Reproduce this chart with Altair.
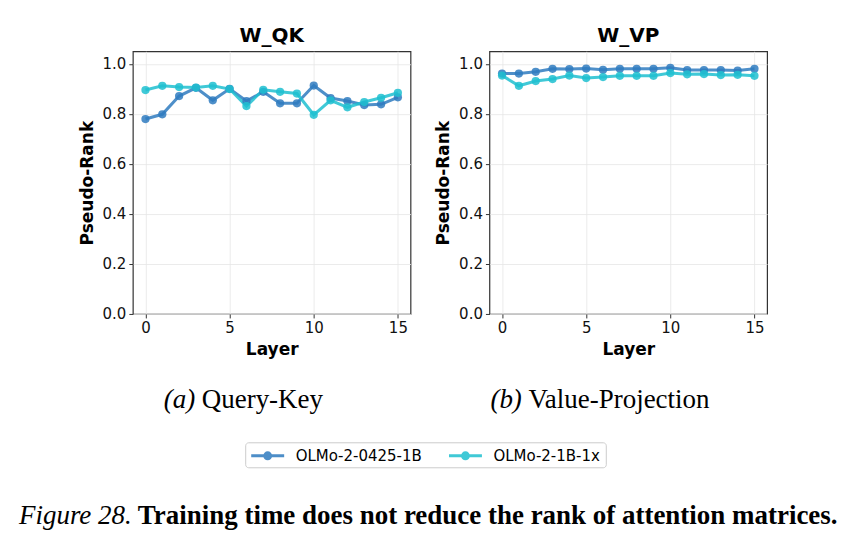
import altair as alt
import pandas as pd

# Pseudo-rank per layer for each attention matrix type
layers = list(range(16))
models = ["OLMo-2-0425-1B", "OLMo-2-1B-1x"]
colors = ["#2f7bbf", "#1fc0d0"]

qk_0425 = [0.779, 0.798, 0.871, 0.904, 0.854, 0.900, 0.851, 0.888,
           0.842, 0.842, 0.913, 0.863, 0.851, 0.835, 0.838, 0.866]
qk_1x = [0.895, 0.912, 0.907, 0.905, 0.912, 0.899, 0.831, 0.896,
         0.888, 0.881, 0.796, 0.854, 0.826, 0.847, 0.864, 0.884]

vp_0425 = [0.961, 0.961, 0.968, 0.980, 0.979, 0.981, 0.976, 0.980,
           0.980, 0.980, 0.984, 0.975, 0.975, 0.975, 0.973, 0.980]
vp_1x = [0.953, 0.912, 0.931, 0.939, 0.953, 0.943, 0.947, 0.952,
         0.952, 0.952, 0.963, 0.958, 0.959, 0.955, 0.956, 0.952]

panel_titles = ["W_QK", "W_VP"]
sub_tags = ["(a)", "(b)"]
sub_names = ["Query-Key", "Value-Projection"]
caption_lead = "Figure 28."
caption_body = "Training time does not reduce the rank of attention matrices."

W, H = 278, 263
SANS = "DejaVu Sans"
SERIF = "Liberation Serif"
SERIF_SIZE = 27


def frame(a, b):
    return pd.DataFrame({
        "Layer": layers * 2,
        "Pseudo-Rank": a + b,
        "Model": [models[0]] * 16 + [models[1]] * 16,
    })


# legend glyph: a line segment with a dot in its middle
legend_glyph = "M-2,0H2M-0.36,0A0.36,0.36,0,1,1,0.36,0A0.36,0.36,0,1,1,-0.36,0Z"

color = alt.Color(
    "Model:N",
    scale=alt.Scale(domain=models, range=colors),
    legend=alt.Legend(
        title=None,
        orient="none",
        legendX=121,
        legendY=391,
        direction="horizontal",
        columns=2,
        columnPadding=20,
        labelFont=SANS,
        labelFontSize=15,
        labelColor="#000",
        labelOffset=18,
        symbolType=legend_glyph,
        symbolSize=272,
        symbolStrokeWidth=3,
        symbolOpacity=0.85,
        padding=4,
    ),
)


def serif_text(text, x, y, style="normal", weight="normal"):
    return alt.Chart(alt.Data(values=[{}])).mark_text(
        text=text, font=SERIF, fontSize=SERIF_SIZE, fontStyle=style,
        fontWeight=weight, align="left", baseline="alphabetic", color="#000"
    ).encode(x=alt.value(x), y=alt.value(y))


def legend_frame():
    # rounded border around the shared legend below the panels
    return alt.Chart(alt.Data(values=[{}])).mark_rect(
        fill="#ffffff", fillOpacity=0, stroke="#cccccc", strokeWidth=1,
        cornerRadius=3
    ).encode(x=alt.value(113), x2=alt.value(474), y=alt.value(392), y2=alt.value(417))


def panel(df, title, tag, name, tag_x, with_caption):
    base = alt.Chart(df)
    x = alt.X(
        "Layer:Q",
        scale=alt.Scale(domain=[-0.75, 15.75], nice=False, zero=False),
        axis=alt.Axis(values=[0, 5, 10, 15], title="Layer"),
    )
    y = alt.Y(
        "Pseudo-Rank:Q",
        scale=alt.Scale(domain=[0, 1.05], nice=False),
        axis=alt.Axis(values=[0, 0.2, 0.4, 0.6, 0.8, 1.0], format=".1f",
                      title="Pseudo-Rank"),
    )
    lines = base.mark_line(strokeWidth=3, opacity=0.85).encode(
        x=x, y=y, color=color, detail="Model:N"
    )
    points = base.mark_circle(size=68, opacity=0.85).encode(
        x=x, y=y,
        color=alt.Color("Model:N", scale=alt.Scale(domain=models, range=colors),
                        legend=None),
    )
    layers_ = [
        lines, points,
        serif_text(tag, tag_x, 357, style="italic"),
        serif_text(name, tag_x + 38, 357),
    ]
    if with_caption:
        layers_ += [
            legend_frame(),
            serif_text(caption_lead, -114, 473, style="italic"),
            serif_text(caption_body, 5, 473, weight="bold"),
        ]
    return alt.layer(*layers_).properties(
        width=W, height=H,
        title=alt.TitleParams(title, font=SANS, fontSize=20, fontWeight="bold",
                              color="#000", offset=5),
    )


left = panel(frame(qk_0425, qk_1x), panel_titles[0], sub_tags[0], sub_names[0], 31, True)
right = panel(frame(vp_0425, vp_1x), panel_titles[1], sub_tags[1], sub_names[1], 1, False)

chart = alt.hconcat(left, right, spacing=79, bounds="flush").properties(
    padding={"left": 18, "top": 25, "right": 10, "bottom": 10},
    background="white",
).configure_view(
    stroke="#333333", strokeWidth=1.2
).configure_axis(
    labelFont=SANS, labelFontSize=15, labelColor="#111",
    titleFont=SANS, titleFontSize=17, titleFontWeight="bold", titleColor="#000",
    grid=True, gridColor="#e6e6e6", gridWidth=0.8,
    domain=False, tickColor="#333", tickSize=4, tickWidth=1,
    labelPadding=3, titlePadding=6,
)

chart.save("out.html", embed_options={"renderer": "svg", "actions": False})
